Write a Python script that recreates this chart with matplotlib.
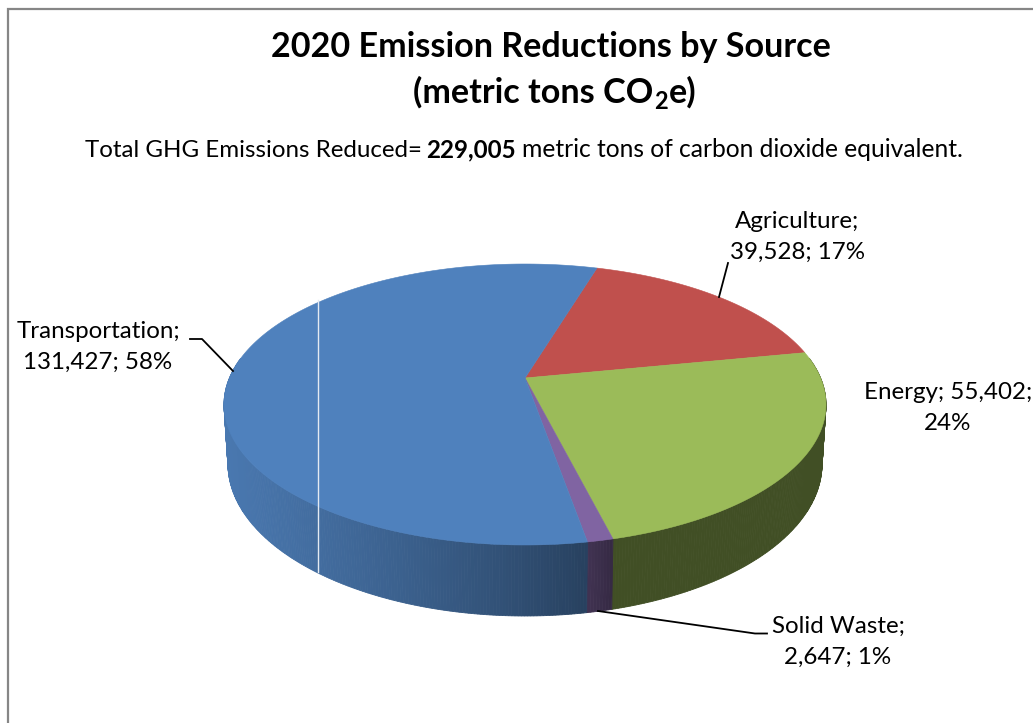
#!/usr/bin/env python3

import numpy as np
import matplotlib
matplotlib.use('Agg')
import matplotlib.pyplot as plt
from matplotlib.colors import to_rgb

# chart data
sources = ['Agriculture', 'Energy', 'Solid Waste', 'Transportation']
emissions = [39528, 55402, 2647, 131427]
percents = [17, 24, 1, 58]
colors = ['#C0504D', '#9BBB59', '#8064A2', '#4F81BD']
total_reduced = 229005

# geometry of the tilted pie, in pixels
first_angle = 16.7
tilt = 0.1886
top_face = dict(cx=525, cy=378, a=295.6, b=135.5)
bottom_face = dict(cx=525, cy=435.3, a=291.7, b=146.6)
# how dark the side wall gets going left to right
wall_x = [224, 318, 400, 500, 590, 612, 830]
wall_shade = [0.93, 0.84, 0.75, 0.63, 0.50, 0.42, 0.42]

plt.rcParams['font.family'] = ['Lato', 'DejaVu Sans']


def rim(theta, face):
    # theta is clockwise from the top of the pie, in degrees
    x = np.sin(np.radians(theta))
    y = np.cos(np.radians(theta))
    w = 1 + tilt*y
    return face['cx'] + face['a']*x/w, face['cy'] - face['b']*y/w


def run_of_text(x, y, pieces):
    # pieces of differing style on one line: (text, gap after in px, y shift, kwargs)
    for s, gap, dy, kw in pieces:
        t = ax.text(x, y + dy, s, va='baseline', **kw)
        x += t.get_window_extent(renderer).width + gap


fig = plt.figure(figsize=(10.33, 7.23), dpi=100)
ax = fig.add_axes([0, 0, 1, 1])
ax.set_xlim(0, 1033)
ax.set_ylim(723, 0)
ax.axis('off')
renderer = fig.canvas.get_renderer()

# chart frame, runs off the page on the right and the bottom
ax.plot([7.5, 7.5, 1033], [723, 8.5, 8.5], color='#868686', lw=1.6, solid_joinstyle='miter')

edges = first_angle + 360*np.cumsum([0] + emissions)/sum(emissions)

# side wall, thin strips so the shading can vary
for i in range(len(sources)):
    t0, t1 = edges[i], edges[i+1]
    steps = np.arange(t0, t1 + 0.5, 0.5)
    steps[-1] = t1
    for a, b in zip(steps[:-1], steps[1:]):
        if np.cos(np.radians((a + b)/2)) > 0.15:
            continue
        xa, ya = rim(a, top_face)
        xb, yb = rim(b, top_face)
        xc, yc = rim(b, bottom_face)
        xd, yd = rim(a, bottom_face)
        shade = np.interp((xa + xb)/2, wall_x, wall_shade)
        c = tuple(shade*v for v in to_rgb(colors[i]))
        ax.fill([xa, xb, xc, xd], [ya, yb, yc, yd], color=c, lw=0.6)

# top face
for i in range(len(sources)):
    theta = np.linspace(edges[i], edges[i+1], 200)
    x, y = rim(theta, top_face)
    ax.fill(np.r_[top_face['cx'], x], np.r_[top_face['cy'], y], color=colors[i], lw=0.4)

# the white line left in the picture
ax.plot([318, 318], [300, 572], color='#E4EAF2', lw=1)

# leader lines
ax.plot([190, 202, 233], [339, 339, 371], color='black', lw=1.3)
ax.plot([728, 719], [263, 297], color='black', lw=1.3)
ax.plot([598, 755, 767], [611, 633.5, 633.5], color='black', lw=1.3)

# titles
big = dict(fontsize=24.6, fontweight='bold')
ax.text(551, 47, '2020 Emission Reductions by Source', ha='center', va='center', **big)
run_of_text(413, 103, [('(metric tons CO', 1, 0, big),
                       ('2', 1, 6, dict(fontsize=17, fontweight='bold')),
                       ('e)', 0, 0, big)])

run_of_text(85, 157, [('Total GHG Emissions Reduced=', 4, 0, dict(fontsize=17.4)),
                      (f'{total_reduced:,}', 7, 0, dict(fontsize=17.4, fontweight='bold')),
                      ('metric tons of carbon dioxide equivalent.', 0, 0, dict(fontsize=17.7))])

# data labels
label_pos = [(797, 237), (948, 408), (838, 642), (98, 347)]
breaks = [f'{sources[0]};\n{emissions[0]:,}; {percents[0]}%',
          f'{sources[1]}; {emissions[1]:,};\n{percents[1]}%',
          f'{sources[2]};\n{emissions[2]:,}; {percents[2]}%',
          f'{sources[3]};\n{emissions[3]:,}; {percents[3]}%']
for (x, y), s in zip(label_pos, breaks):
    ax.text(x, y, s, fontsize=17.4, ha='center', va='center', linespacing=1.6, color='black')

fig.savefig('out.png', dpi=100)
